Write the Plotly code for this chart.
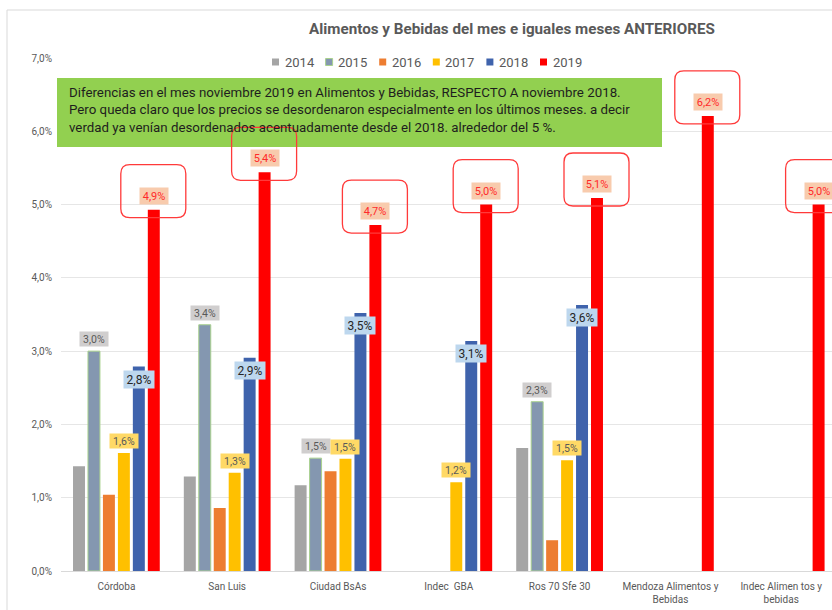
import plotly.graph_objects as go

# ---------------- data ----------------
categorias = ["Córdoba", "San Luis", "Ciudad BsAs", "Indec\u00a0 GBA", "Ros 70 Sfe 30",
              "Mendoza Alimentos y<br>Bebidas", "Indec Alimen tos y<br>bebidas"]
anios = ["2014", "2015", "2016", "2017", "2018", "2019"]
v2014 = [1.43, 1.29, 1.17, None, 1.68, None, None]
v2015 = [3.00, 3.36, 1.54, None, 2.31, None, None]
v2016 = [1.04, 0.86, 1.36, None, 0.42, None, None]
v2017 = [1.61, 1.34, 1.53, 1.21, 1.51, None, None]
v2018 = [2.79, 2.91, 3.52, 3.14, 3.63, None, None]
v2019 = [4.93, 5.44, 4.72, 5.00, 5.09, 6.21, 5.00]
ytick_vals = [0, 1, 2, 3, 4, 5, 6, 7]
ytick_text = ["0,0%", "1,0%", "2,0%", "3,0%", "4,0%", "5,0%", "6,0%", "7,0%"]
titulo = "Alimentos y Bebidas del mes e iguales meses ANTERIORES"
nota = ("Diferencias en el mes noviembre 2019 en Alimentos y Bebidas, RESPECTO A noviembre 2018.<br>"
        "Pero queda claro que los precios se desordenaron especialmente en los últimos meses. a decir<br>"
        "verdad ya venían desordenados acentuadamente desde el 2018. alrededor del 5 %.")

series = [v2014, v2015, v2016, v2017, v2018, v2019]
colores = ["#A5A5A5", "#8497B0", "#ED7D31", "#FFC000", "#3F63AC", "#FF0000"]
bordes = [None, "#A9D18E", None, None, None, None]

# ---------------- layout geometry ----------------
W, H = 832, 610
ML, MT, MB = 61, 58, 39
PW = W - ML
PH = H - MT - MB
cat_px = 110.8
xmax = -0.5 + PW / cat_px
BARGAP = 0.19
slot = (1 - BARGAP) / len(series)
offs = [-(1 - BARGAP) / 2 + slot * (k + 0.5) for k in range(len(series))]


def px_x(px):
    return (px - ML) / PW


def px_y(py):
    return (H - MB - py) / PH


def fmt(v):
    return f"{v:.1f}".replace(".", ",") + "%"


xs = list(range(len(categorias)))
fig = go.Figure()
for k, (name, vals) in enumerate(zip(anios, series)):
    line = dict(color=bordes[k], width=1) if bordes[k] else dict(width=0)
    fig.add_trace(go.Bar(x=xs, y=vals, name=name, showlegend=False,
                         marker=dict(color=colores[k], line=line)))

FONT = "Roboto, Noto Sans, sans-serif"
annotations = []
shapes = []

# outer chart border
shapes.append(dict(type="line", xref="paper", yref="paper", x0=px_x(7), x1=px_x(7),
                   y0=px_y(10), y1=px_y(610), line=dict(color="#D9D9D9", width=1)))
shapes.append(dict(type="line", xref="paper", yref="paper", x0=px_x(7), x1=px_x(832),
                   y0=px_y(10), y1=px_y(10), line=dict(color="#D9D9D9", width=1)))

# legend (Excel style: small square + label)
LEG_X0, LEG_PITCH, LEG_Y = 275.5, 53.6, 62
for k, name in enumerate(anios):
    cx = LEG_X0 + LEG_PITCH * k
    shapes.append(dict(type="rect", xref="paper", yref="paper",
                       x0=px_x(cx - 3.5), x1=px_x(cx + 3.5),
                       y0=px_y(LEG_Y + 3.5), y1=px_y(LEG_Y - 3.5),
                       fillcolor=colores[k],
                       line=dict(color=bordes[k] or colores[k], width=1 if bordes[k] else 0)))
    annotations.append(dict(xref="paper", yref="paper", x=px_x(cx + 7), y=px_y(LEG_Y),
                            xanchor="left", yanchor="middle", showarrow=False, text=name,
                            font=dict(family=FONT, size=13, color="#595959")))

# green note box
shapes.append(dict(type="rect", xref="paper", yref="paper", x0=px_x(57), x1=px_x(662),
                   y0=px_y(147), y1=px_y(78), fillcolor="#92D050", line=dict(width=0),
                   layer="above"))
annotations.append(dict(xref="paper", yref="paper", x=px_x(67), y=px_y(110),
                        xanchor="left", yanchor="middle", align="left", showarrow=False,
                        text=nota, font=dict(family=FONT, size=13.3, color="#1E1E1E")))

estilos = {
    1: dict(bg="#D0CECE", fc="#595959", size=10.5, w=28, h=14, anchor="bottom", shift=4),
    3: dict(bg="#FFD966", fc="#595959", size=10.5, w=28, h=14, anchor="bottom", shift=4),
    4: dict(bg="#BDD7EE", fc="#262626", size=12, w=30, h=17, anchor="top", shift=-3),
    5: dict(bg="#F8CBAD", fc="#FF2A2A", size=11, w=28, h=16, anchor="bottom", shift=5),
}
for k, st in estilos.items():
    for i, v in enumerate(series[k]):
        if v is None:
            continue
        annotations.append(dict(x=i + offs[k], y=v, xref="x", yref="y", text=fmt(v),
                                showarrow=False, yanchor=st["anchor"], yshift=st["shift"],
                                bgcolor=st["bg"], width=st["w"], height=st["h"], borderpad=0,
                                font=dict(family=FONT, size=st["size"], color=st["fc"])))

# rounded callout frames around 2019 labels
l, r, b, t, rad = -33, 32, -8, 45, 9
path = (f"M{l+rad},{b} L{r-rad},{b} Q{r},{b} {r},{b+rad} L{r},{t-rad} Q{r},{t} {r-rad},{t} "
        f"L{l+rad},{t} Q{l},{t} {l},{t-rad} L{l},{b+rad} Q{l},{b} {l+rad},{b} Z")
for i, v in enumerate(v2019):
    shapes.append(dict(type="path", xref="x", yref="y", xsizemode="pixel", ysizemode="pixel",
                       xanchor=i + offs[5], yanchor=v, path=path, layer="above",
                       fillcolor="rgba(0,0,0,0)", line=dict(color="#FF3A3A", width=1.3)))

fig.update_layout(
    width=W, height=H, margin=dict(l=ML, r=0, t=MT, b=MB),
    paper_bgcolor="white", plot_bgcolor="white",
    barmode="group", bargap=BARGAP, bargroupgap=0.2,
    font=dict(family=FONT, color="#595959"),
    title=dict(text="<b>" + titulo + "</b>", x=px_x(512), xref="paper", xanchor="center",
               y=1 - 29 / H, yanchor="middle",
               font=dict(family=FONT, size=15.2, color="#595959")),
    xaxis=dict(range=[-0.5, xmax], tickvals=xs, ticktext=categorias, showgrid=False,
               zeroline=False, showline=True, linecolor="#D9D9D9", ticks="",
               ticklabelstandoff=6,
               tickfont=dict(family=FONT, size=10, color="#595959")),
    yaxis=dict(range=[0, 7], tickvals=ytick_vals, ticktext=ytick_text, showgrid=True,
               gridcolor="#E6E6E6", zeroline=False, ticks="", ticklabelstandoff=8,
               tickfont=dict(family=FONT, size=10, color="#595959")),
    shapes=shapes, annotations=annotations, showlegend=False,
)

fig.write_html("out.html")
